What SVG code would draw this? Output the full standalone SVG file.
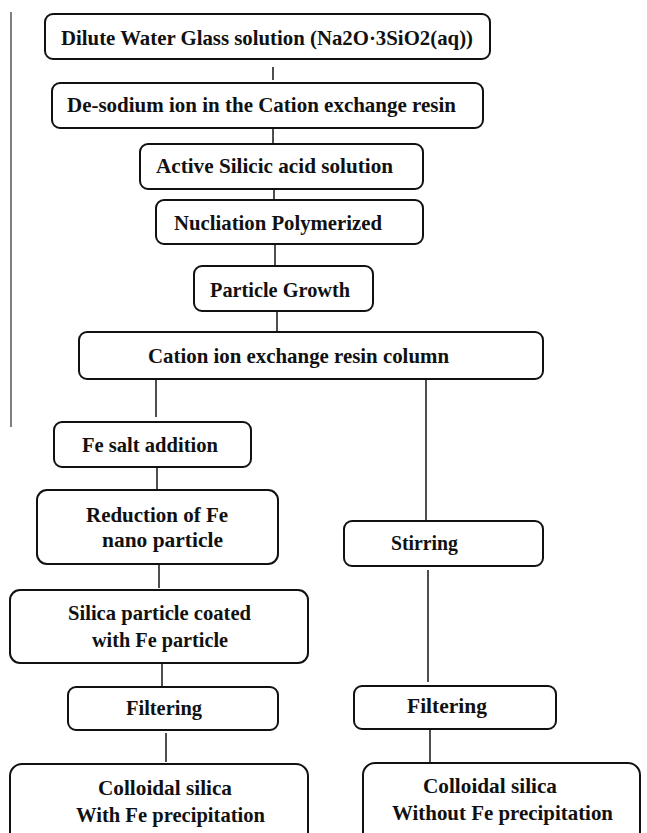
<svg xmlns="http://www.w3.org/2000/svg" width="647" height="833" viewBox="0 0 647 833">
<style>
.box{fill:#fff;stroke:#111;stroke-width:2}
.t{font-family:"Liberation Serif","Times New Roman",serif;font-weight:bold;font-size:21px;fill:#111;text-anchor:middle}
.c{stroke:#222;stroke-width:1.6;fill:none}
</style>
<rect width="647" height="833" fill="#fff"/>
<line x1="11" y1="12" x2="11" y2="427" stroke="#555" stroke-width="1.5"/>
<g id="connectors">
<line class="c" x1="273" y1="67" x2="273" y2="80"/>
<line class="c" x1="273" y1="128" x2="273" y2="144"/>
<line class="c" x1="274" y1="189" x2="274" y2="200"/>
<line class="c" x1="275" y1="244" x2="275" y2="266"/>
<line class="c" x1="277" y1="311" x2="277" y2="332"/>
<line class="c" x1="156" y1="379" x2="156" y2="417"/>
<line class="c" x1="426" y1="379" x2="426" y2="521"/>
<line class="c" x1="157" y1="467" x2="157" y2="490"/>
<line class="c" x1="159" y1="564" x2="159" y2="588"/>
<line class="c" x1="162" y1="663" x2="162" y2="687"/>
<line class="c" x1="166" y1="733" x2="166" y2="762"/>
<line class="c" x1="428" y1="570" x2="428" y2="682"/>
<line class="c" x1="430" y1="729" x2="430" y2="762"/>
</g>
<g id="n1"><rect class="box" x="45" y="14" width="445" height="45" rx="8"/><text class="t" x="267" y="45" textLength="412" lengthAdjust="spacingAndGlyphs">Dilute Water Glass solution (Na2O·3SiO2(aq))</text></g>
<g id="n2"><rect class="box" x="52" y="83" width="431" height="45" rx="8"/><text class="t" x="261.5" y="112" textLength="389" lengthAdjust="spacingAndGlyphs">De-sodium ion in the Cation exchange resin</text></g>
<g id="n3"><rect class="box" x="140" y="144" width="283" height="45" rx="8"/><text class="t" x="274.5" y="173" textLength="237" lengthAdjust="spacingAndGlyphs">Active Silicic acid solution</text></g>
<g id="n4"><rect class="box" x="156" y="200" width="267" height="44" rx="8"/><text class="t" x="278" y="230" textLength="208" lengthAdjust="spacingAndGlyphs">Nucliation Polymerized</text></g>
<g id="n5"><rect class="box" x="194" y="266" width="179" height="45" rx="8"/><text class="t" x="280" y="297" textLength="140" lengthAdjust="spacingAndGlyphs">Particle Growth</text></g>
<g id="n6"><rect class="box" x="79" y="332" width="464" height="47" rx="8"/><text class="t" x="298.5" y="363" textLength="301" lengthAdjust="spacingAndGlyphs">Cation ion exchange resin column</text></g>
<g id="n7"><rect class="box" x="54" y="422" width="197" height="45" rx="8"/><text class="t" x="150" y="452" textLength="136" lengthAdjust="spacingAndGlyphs">Fe salt addition</text></g>
<g id="n8"><rect class="box" x="37" y="490" width="241" height="74" rx="10"/><text class="t" x="157" y="522" textLength="142" lengthAdjust="spacingAndGlyphs">Reduction of Fe</text><text class="t" x="162.5" y="547" textLength="121" lengthAdjust="spacingAndGlyphs">nano particle</text></g>
<g id="n9"><rect class="box" x="10" y="590" width="298" height="73" rx="10"/><text class="t" x="159.5" y="620" textLength="183" lengthAdjust="spacingAndGlyphs">Silica particle coated</text><text class="t" x="160" y="647" textLength="136" lengthAdjust="spacingAndGlyphs">with Fe particle</text></g>
<g id="n10"><rect class="box" x="68" y="687" width="210" height="43" rx="8"/><text class="t" x="164" y="715" textLength="76" lengthAdjust="spacingAndGlyphs">Filtering</text></g>
<g id="n11"><rect class="box" x="10" y="764" width="298" height="90" rx="12"/><text class="t" x="165" y="795" textLength="134" lengthAdjust="spacingAndGlyphs">Colloidal silica</text><text class="t" x="170.5" y="822" textLength="189" lengthAdjust="spacingAndGlyphs">With Fe precipitation</text></g>
<g id="n12"><rect class="box" x="344" y="521" width="199" height="45" rx="8"/><text class="t" x="424.5" y="550" textLength="67" lengthAdjust="spacingAndGlyphs">Stirring</text></g>
<g id="n13"><rect class="box" x="354" y="686" width="202" height="43" rx="8"/><text class="t" x="447" y="713" textLength="80" lengthAdjust="spacingAndGlyphs">Filtering</text></g>
<g id="n14"><rect class="box" x="363" y="763" width="277" height="90" rx="12"/><text class="t" x="490" y="793" textLength="134" lengthAdjust="spacingAndGlyphs">Colloidal silica</text><text class="t" x="502.5" y="820" textLength="221" lengthAdjust="spacingAndGlyphs">Without  Fe precipitation</text></g>
</svg>
